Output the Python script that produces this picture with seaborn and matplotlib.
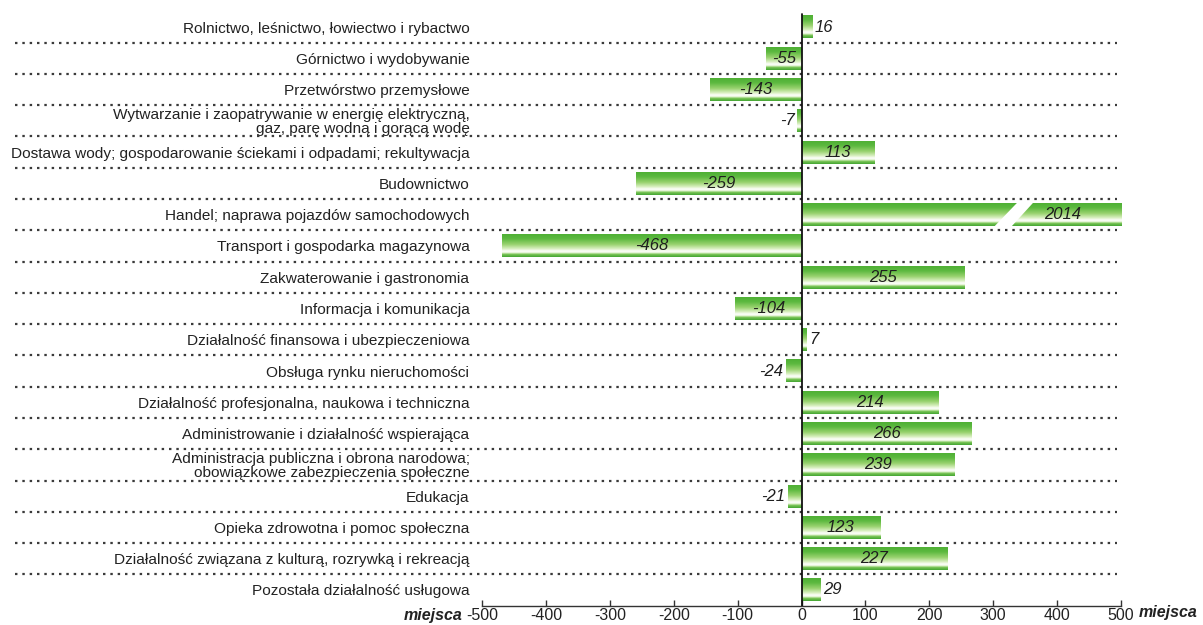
import numpy as np
import pandas as pd
import matplotlib
matplotlib.use("Agg")
import matplotlib.pyplot as plt
from matplotlib.colors import LinearSegmentedColormap
from matplotlib.patches import Polygon
import seaborn as sns

categories = [
    "Rolnictwo, leśnictwo, łowiectwo i rybactwo",
    "Górnictwo i wydobywanie",
    "Przetwórstwo przemysłowe",
    "Wytwarzanie i zaopatrywanie w energię elektryczną,\ngaz, parę wodną i gorącą wodę",
    "Dostawa wody; gospodarowanie ściekami i odpadami; rekultywacja",
    "Budownictwo",
    "Handel; naprawa pojazdów samochodowych",
    "Transport i gospodarka magazynowa",
    "Zakwaterowanie i gastronomia",
    "Informacja i komunikacja",
    "Działalność finansowa i ubezpieczeniowa",
    "Obsługa rynku nieruchomości",
    "Działalność profesjonalna, naukowa i techniczna",
    "Administrowanie i działalność wspierająca",
    "Administracja publiczna i obrona narodowa;\nobowiązkowe zabezpieczenia społeczne",
    "Edukacja",
    "Opieka zdrowotna i pomoc społeczna",
    "Działalność związana z kulturą, rozrywką i rekreacją",
    "Pozostała działalność usługowa",
]
values = [16, -55, -143, -7, 113, -259, 2014, -468, 255, -104, 7, -24, 214, 266, 239, -21, 123, 227, 29]
xticks = [-500, -400, -300, -200, -100, 0, 100, 200, 300, 400, 500]
unit_label = "miejsca"

XMIN, XMAX = -500, 500
draw_vals = [min(max(v, XMIN), XMAX) for v in values]
df = pd.DataFrame({"kat": categories, "val": draw_vals})

sns.set_style("white")
plt.rcParams["font.family"] = ["Liberation Sans", "DejaVu Sans"]

fig = plt.figure(figsize=(12.03, 6.25), dpi=100)
ax = fig.add_axes([482 / 1203, 19.4 / 625, 639 / 1203, 594.2 / 625])

sns.barplot(data=df, x="val", y="kat", orient="h", ax=ax, width=0.73,
            color="#6cc04a", saturation=1, errorbar=None)

# gradient fill for each bar
grad_cmap = LinearSegmentedColormap.from_list("g", [
    (0.0, "#4fb035"), (0.2, "#5cb93f"), (0.45, "#99d26f"),
    (0.64, "#d8efbf"), (0.75, "#ffffff"), (0.82, "#e6f5d6"),
    (0.88, "#7cc657"), (1.0, "#45a633")])
grad = np.linspace(0, 1, 96).reshape(-1, 1)
for p in list(ax.patches):
    x0 = p.get_x(); w = p.get_width()
    y0 = p.get_y(); h = p.get_height()
    xa, xb = min(x0, x0 + w), max(x0, x0 + w)
    p.set_facecolor("none"); p.set_edgecolor("none")
    ax.imshow(grad, cmap=grad_cmap, aspect="auto", origin="upper",
              extent=(xa, xb, y0 + h, y0), zorder=2, interpolation="bilinear")

ax.set_xlim(XMIN, XMAX)
ax.set_ylim(len(categories) - 0.5, -0.5)

# break mark on the clipped bar
for i, v in enumerate(values):
    if v > XMAX:
        hh = 0.73 / 2 + 0.05
        brk = Polygon([(300, i + hh), (327, i + hh), (364, i - hh), (339, i - hh)],
                      closed=True, facecolor="white", edgecolor="none", zorder=3)
        ax.add_patch(brk)

# value labels
fs_val = 12
for i, v in enumerate(values):
    txt = str(v)
    kw = dict(va="center", fontsize=fs_val, style="italic", color="#1e1e1e", zorder=5)
    if v > XMAX:
        ax.text(408, i, txt, ha="center", **kw)
    elif abs(v) >= 40:
        ax.text(v / 2, i, txt, ha="center", **kw)
    elif v > 0:
        ax.text(v + 5, i, txt, ha="left", **kw)
    else:
        ax.text(v - 4, i, txt, ha="right", **kw)

# dotted separators spanning labels
for i in range(len(categories) - 1):
    ax.plot([-0.731, 0.994], [i + 0.5, i + 0.5], transform=ax.get_yaxis_transform(),
            clip_on=False, color="#3a3a3a", lw=1.6, linestyle=(0, (1.1, 2.2)), zorder=1)

# zero line
ax.axvline(0, color="#111111", lw=1.3, zorder=4, ymin=0, ymax=0.995)

for s in ["top", "right", "left"]:
    ax.spines[s].set_visible(False)
ax.spines["bottom"].set_color("#333333")
ax.spines["bottom"].set_linewidth(1.0)

ax.set_xticks(xticks)
ax.set_xticklabels([str(t) for t in xticks])
ax.tick_params(axis="x", direction="in", length=4, width=1, color="#333333",
               labelsize=11.5, pad=2, labelcolor="#222222", bottom=True)
ax.tick_params(axis="y", length=0, pad=9, labelsize=11.1, labelcolor="#222222")
for lab in ax.get_yticklabels():
    lab.set_linespacing(0.95)
ax.set_xlabel("")
ax.set_ylabel("")
ax.grid(False)

ax.text(-0.03, -0.016, unit_label, transform=ax.transAxes, ha="right", va="center",
        fontsize=11.5, fontweight="bold", style="italic", color="#222222")
ax.text(1.027, -0.012, unit_label, transform=ax.transAxes, ha="left", va="center",
        fontsize=11.5, fontweight="bold", style="italic", color="#222222")

fig.savefig("out.png", dpi=100)
